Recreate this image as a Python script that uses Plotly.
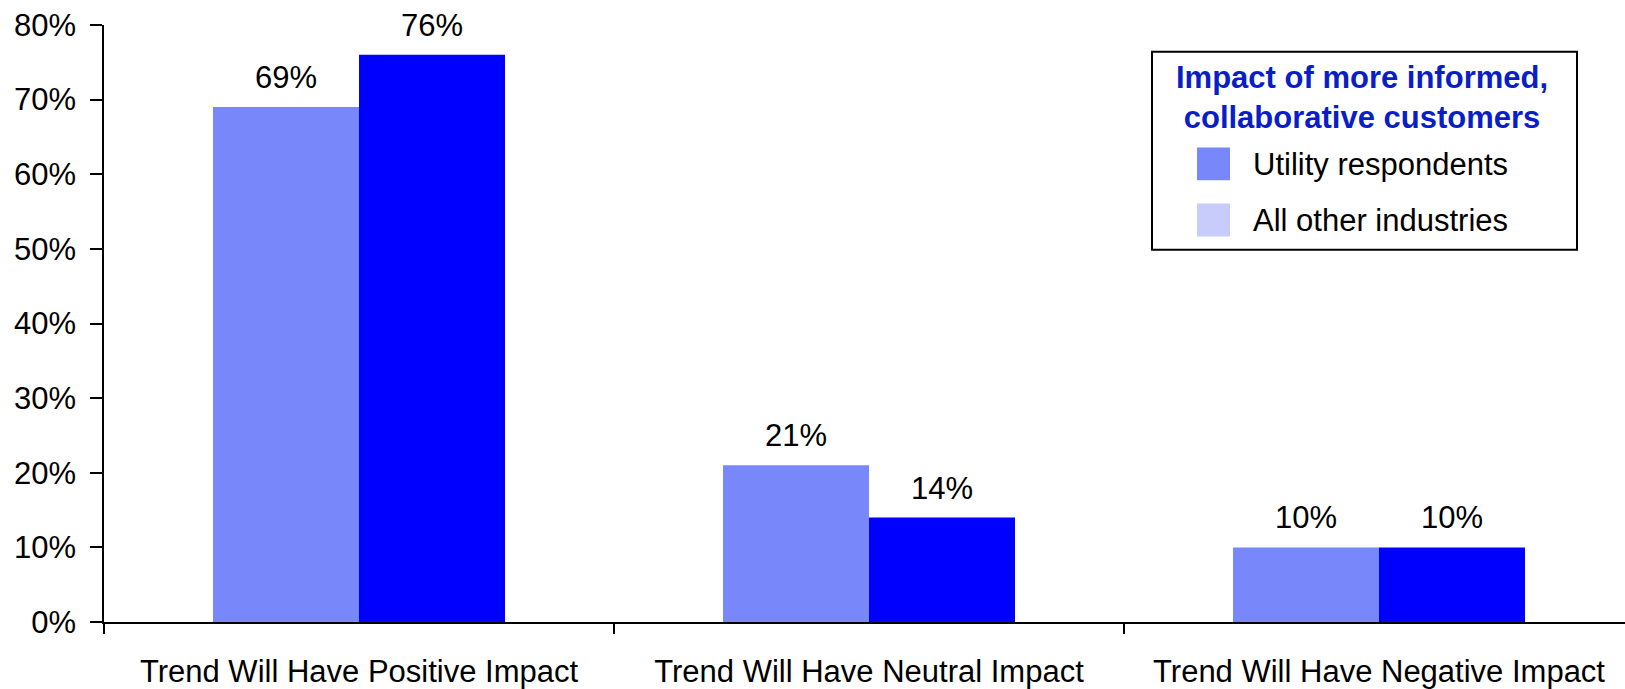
import plotly.graph_objects as go

categories = ["Trend Will Have Positive Impact", "Trend Will Have Neutral Impact", "Trend Will Have Negative Impact"]
utility = [0.69, 0.21, 0.10]
other = [0.76, 0.14, 0.10]
series_names = ["Utility respondents", "All other industries"]
legend_title = "Impact of more informed,<br>collaborative customers"
ytick_vals = [0, 0.1, 0.2, 0.3, 0.4, 0.5, 0.6, 0.7, 0.8]

W, H = 1625, 689
ML, MT, MB, MR = 104, 25, 64, 0
PW, PH = W - ML - MR, H - MT - MB
FONT = "Liberation Sans, Arial, sans-serif"
C_UTIL = "#7888fa"
C_OTHER = "#0000ff"
C_OTHER_SWATCH = "#c8ccfa"
CAT_PX = 510.0


def px(x):
    return (x - ML) / PW


def py(y):
    return (H - MB - y) / PH


fig = go.Figure()
fig.add_trace(go.Bar(x=categories, y=utility, name=series_names[0],
                     marker=dict(color=C_UTIL, line=dict(width=0)), showlegend=False))
fig.add_trace(go.Bar(x=categories, y=other, name=series_names[1],
                     marker=dict(color=C_OTHER, line=dict(width=0)), showlegend=False))

annotations = []
half_bar = CAT_PX * 0.5725 / 4
for vals, sign in ((utility, -1), (other, 1)):
    for c, v in zip(categories, vals):
        annotations.append(dict(x=c, y=v, xref="x", yref="y", text=f"{round(v*100)}%",
                                showarrow=False, xshift=sign * half_bar, yanchor="bottom",
                                yshift=10, font=dict(family=FONT, size=31, color="black")))

# custom legend
shapes = [dict(type="rect", xref="paper", yref="paper", x0=px(1152), x1=px(1577),
               y0=py(251), y1=py(52), line=dict(color="black", width=2), fillcolor="white",
               layer="above")]
annotations.append(dict(xref="paper", yref="paper", x=px(1362), y=py(98), text="<b>" + legend_title + "</b>",
                        showarrow=False, xanchor="center", yanchor="middle",
                        font=dict(family=FONT, size=31, color="#0a1ec8")))
for i, (name, col) in enumerate(zip(series_names, [C_UTIL, C_OTHER_SWATCH])):
    top = 148 + i * 56.5
    shapes.append(dict(type="rect", xref="paper", yref="paper", x0=px(1197), x1=px(1230),
                       y0=py(top + 33), y1=py(top), line=dict(width=0), fillcolor=col, layer="above"))
    annotations.append(dict(xref="paper", yref="paper", x=px(1251), y=py(top + 17), text=name,
                            showarrow=False, xanchor="left", yanchor="middle",
                            font=dict(family=FONT, size=31, color="black")))

fig.update_layout(
    width=W, height=H,
    margin=dict(l=ML, r=MR, t=MT, b=MB, pad=0),
    paper_bgcolor="white", plot_bgcolor="white",
    barmode="group", bargap=0.4275, bargroupgap=0,
    font=dict(family=FONT, size=30, color="black"),
    shapes=shapes, annotations=annotations,
    xaxis=dict(type="category", range=[-0.5, -0.5 + PW / CAT_PX], showgrid=False,
               showline=True, linecolor="black", linewidth=2,
               ticks="outside", tickson="boundaries", ticklen=10, tickwidth=1.5, tickcolor="black",
               tickfont=dict(family=FONT, size=31, color="black"), ticklabelstandoff=21,
               fixedrange=True),
    yaxis=dict(range=[0, 0.8], tickvals=ytick_vals, tickformat=".0%", showgrid=False,
               zeroline=False, showline=True, linecolor="black", linewidth=1.5,
               ticks="outside", ticklen=12, tickwidth=1.5, tickcolor="black",
               tickfont=dict(family=FONT, size=31, color="black"), ticklabelstandoff=8,
               fixedrange=True),
)

fig.write_html("out.html", config={"displayModeBar": False})
